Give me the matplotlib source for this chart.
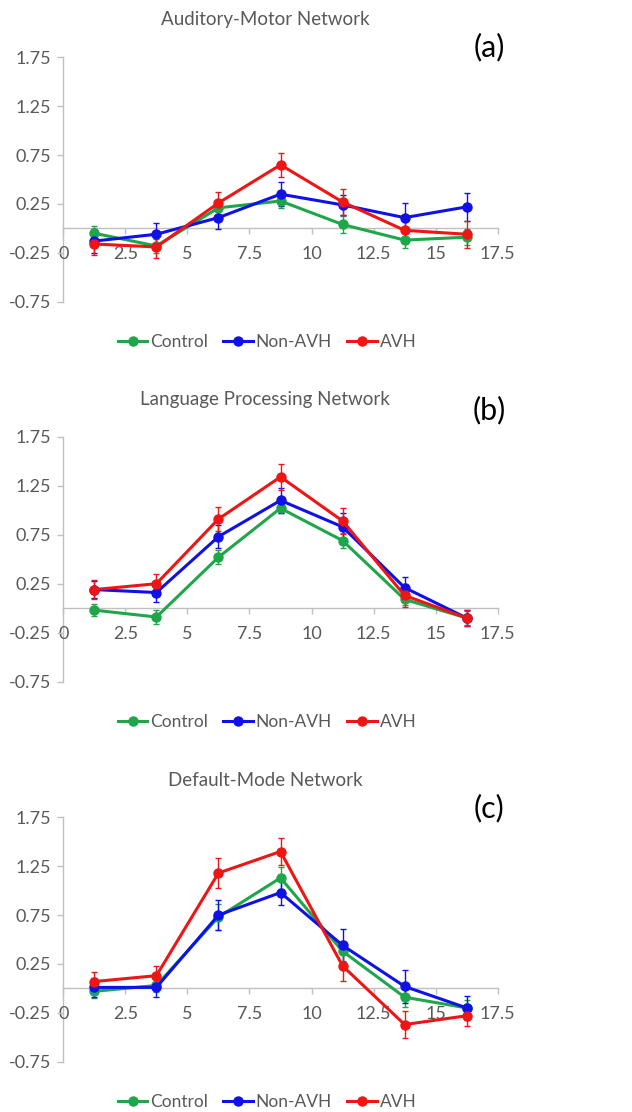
import matplotlib
matplotlib.use("Agg")
import matplotlib.pyplot as plt
from matplotlib.lines import Line2D

plt.rcParams['font.family'] = ['Lato', 'DejaVu Sans']

# time bins (s)
x = [1.25, 3.75, 6.25, 8.75, 11.25, 13.75, 16.25]

titles = ["Auditory-Motor Network", "Language Processing Network", "Default-Mode Network"]
panel_tags = ["(a)", "(b)", "(c)"]
groups = ["Control", "Non-AVH", "AVH"]
colors = ["#1fa64a", "#1010e8", "#ee1515"]

# (a) auditory-motor
am_control = [-0.05, -0.18, 0.21, 0.28, 0.04, -0.12, -0.09]
am_nonavh = [-0.13, -0.06, 0.11, 0.35, 0.24, 0.11, 0.22]
am_avh = [-0.16, -0.19, 0.26, 0.65, 0.27, -0.02, -0.06]
am_control_err = [0.07, 0.07, 0.07, 0.07, 0.09, 0.08, 0.08]
am_nonavh_err = [0.12, 0.12, 0.12, 0.12, 0.10, 0.15, 0.14]
am_avh_err = [0.11, 0.11, 0.11, 0.12, 0.13, 0.12, 0.14]

# (b) language processing
lp_control = [-0.02, -0.09, 0.52, 1.02, 0.69, 0.09, -0.10]
lp_nonavh = [0.19, 0.16, 0.73, 1.10, 0.83, 0.21, -0.10]
lp_avh = [0.19, 0.25, 0.91, 1.34, 0.89, 0.13, -0.10]
lp_control_err = [0.06, 0.07, 0.07, 0.05, 0.08, 0.06, 0.07]
lp_nonavh_err = [0.09, 0.10, 0.12, 0.13, 0.14, 0.11, 0.08]
lp_avh_err = [0.10, 0.10, 0.12, 0.13, 0.13, 0.12, 0.08]

# (c) default-mode
dm_control = [-0.03, 0.03, 0.73, 1.13, 0.38, -0.09, -0.20]
dm_nonavh = [0.01, 0.01, 0.75, 0.98, 0.44, 0.02, -0.20]
dm_avh = [0.07, 0.13, 1.18, 1.40, 0.23, -0.37, -0.28]
dm_control_err = [0.07, 0.07, 0.13, 0.11, 0.10, 0.10, 0.08]
dm_nonavh_err = [0.10, 0.10, 0.15, 0.13, 0.17, 0.17, 0.12]
dm_avh_err = [0.10, 0.10, 0.15, 0.14, 0.15, 0.14, 0.10]

panels = [
    ([am_control, am_nonavh, am_avh], [am_control_err, am_nonavh_err, am_avh_err]),
    ([lp_control, lp_nonavh, lp_avh], [lp_control_err, lp_nonavh_err, lp_avh_err]),
    ([dm_control, dm_nonavh, dm_avh], [dm_control_err, dm_nonavh_err, dm_avh_err]),
]

W, H = 632, 1112
fig = plt.figure(figsize=(W / 100, H / 100), dpi=100)

# pixel layout: (axes top, axes bottom, title y, tag y, legend y)
layout = [
    (57.3, 301.7, 20, 47, 342),
    (436.7, 681.7, 399, 410, 722),
    (817.3, 1061.7, 780, 808, 1102),
]
left_px, right_px = 63.3, 497.7
grey = "#595959"
axis_grey = "#c0c0c0"

for (series, errs), title, tag, (top, bot, ty, tagy, legy) in zip(panels, titles, panel_tags, layout):
    ax = fig.add_axes([left_px / W, 1 - bot / H, (right_px - left_px) / W, (bot - top) / H])
    for vals, err, c, name in zip(series, errs, colors, groups):
        ax.errorbar(x, vals, yerr=err, color=c, marker="o", markersize=6.5,
                    linewidth=2.2, elinewidth=1.0, capsize=2.5, capthick=1.0,
                    label=name)
    ax.set_xlim(0, 17.5)
    ax.set_ylim(-0.75, 1.75)
    ax.set_xticks([0, 2.5, 5, 7.5, 10, 12.5, 15, 17.5])
    ax.set_xticklabels(["0", "2.5", "5", "7.5", "10", "12.5", "15", "17.5"])
    ax.set_yticks([-0.75, -0.25, 0.25, 0.75, 1.25, 1.75])
    ax.set_yticklabels(["-0.75", "-0.25", "0.25", "0.75", "1.25", "1.75"])
    ax.spines["top"].set_visible(False)
    ax.spines["right"].set_visible(False)
    ax.spines["bottom"].set_position(("data", 0))
    for s in ("left", "bottom"):
        ax.spines[s].set_color(axis_grey)
        ax.spines[s].set_linewidth(1.0)
        ax.spines[s].set_zorder(0)
    ax.tick_params(axis="both", colors=axis_grey, labelcolor=grey, labelsize=13,
                   length=4, width=1.0)
    ax.tick_params(axis="x", pad=9)
    ax.tick_params(axis="y", pad=5)
    ax.patch.set_alpha(0)

    fig.text(265 / W, 1 - ty / H, title, ha="center", va="center", fontsize=13.5, color=grey)
    fig.text(489 / W, 1 - tagy / H, tag, ha="center", va="center", fontsize=22, color="black")
    handles = [Line2D([], [], color=c, marker="o", markersize=6.5, linewidth=2.2) for c in colors]
    fig.legend(handles=handles, labels=groups, loc="center", bbox_to_anchor=(267 / W, 1 - legy / H),
               ncol=3, frameon=False, fontsize=12.5, handlelength=1.7, handletextpad=0.15,
               columnspacing=0.9, labelcolor=grey)

fig.savefig("out.png", dpi=100)
